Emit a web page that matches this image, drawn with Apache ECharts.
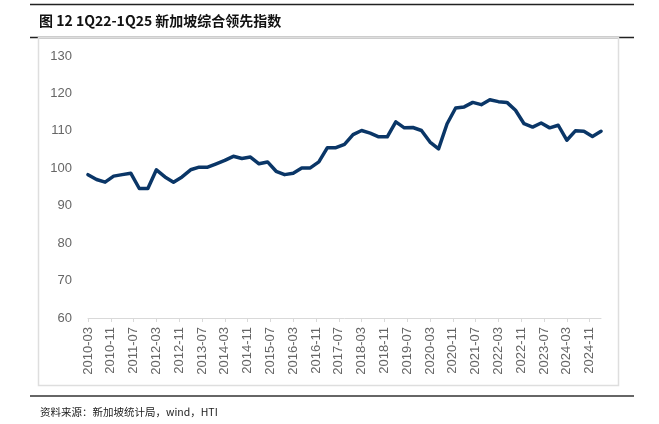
<!DOCTYPE html>
<html><head><meta charset="utf-8">
<script src="https://cdn.jsdelivr.net/npm/echarts@6/dist/echarts.min.js"></script>
<style>html,body{margin:0;padding:0;background:#fff}#c{width:659px;height:424px}</style>
</head><body><div id="c"></div>
<script>
// Quarterly Singapore composite leading index, 2010-03 .. 2025-03
const startYear = 2010, startMonth = 3, endYear = 2025, endMonth = 3;
const quarterMonths = [3, 6, 9, 12];
const values = [
  98.3, 97.0, 96.3, 97.9, 98.3, 98.7, 94.6, 94.6,
  99.6, 97.7, 96.3, 97.7, 99.6, 100.3, 100.3, 101.2,
  102.1, 103.2, 102.6, 103.0, 101.2, 101.7, 99.2, 98.3,
  98.7, 100.1, 100.1, 101.7, 105.5, 105.5, 106.4, 109.0,
  110.1, 109.4, 108.4, 108.4, 112.4, 110.8, 110.9, 110.1,
  107.0, 105.2, 111.9, 116.1, 116.4, 117.6, 117.0, 118.3,
  117.8, 117.6, 115.5, 111.9, 111.0, 112.1, 110.8, 111.5,
  107.5, 110.0, 109.9, 108.5, 109.9
];
const yTicks = [60, 70, 80, 90, 100, 110, 120, 130];
const titleText = '图 12 1Q22-1Q25 新加坡综合领先指数';
const sourceText = '资料来源：新加坡统计局，wind，HTI';

// monthly categories (axis is a monthly date axis; data quarterly)
const categories = [];
const seriesData = [];
let qi = 0;
for (let y = startYear, m = startMonth; y < endYear || (y === endYear && m <= endMonth); ) {
  categories.push(y + '-' + String(m).padStart(2, '0'));
  seriesData.push(quarterMonths.includes(m) ? values[qi++] : null);
  m++; if (m > 12) { m = 1; y++; }
}

const chart = echarts.init(document.getElementById('c'), null, {renderer: 'canvas'});
const grey = '#d9d9d9';
chart.setOption({
  animation: false,
  backgroundColor: '#fff',
  grid: {left: 88, right: 58, top: 56, bottom: 106, containLabel: false},
  xAxis: {
    type: 'category', data: categories, boundaryGap: false,
    axisLine: {lineStyle: {color: grey, width: 1}},
    axisTick: {show: true, interval: 7, length: 4, lineStyle: {color: grey}},
    axisLabel: {interval: 7, rotate: 90, margin: 9, color: '#666', fontSize: 13, fontFamily: 'Liberation Sans'}
  },
  yAxis: {
    type: 'value', min: yTicks[0], max: yTicks[yTicks.length - 1], interval: 10,
    axisLine: {show: false}, axisTick: {show: false}, splitLine: {show: false},
    axisLabel: {margin: 16, color: '#666', fontSize: 13, fontFamily: 'Liberation Sans'}
  },
  series: [{
    type: 'line', data: seriesData, connectNulls: true, showSymbol: false, symbol: 'none',
    lineStyle: {color: '#0a3667', width: 3.5, join: 'round', cap: 'round'}
  }],
  graphic: [
    {type: 'line', shape: {x1: 30, y1: 4.5, x2: 634, y2: 4.5}, style: {stroke: '#222', lineWidth: 1.5}},
    {type: 'text', left: 39, top: 14, style: {text: titleText, font: 'bold 14px "Noto Sans CJK SC", "Liberation Sans"', fill: '#111'}},
    {type: 'line', shape: {x1: 30, y1: 37.5, x2: 634, y2: 37.5}, style: {stroke: '#222', lineWidth: 1.5}},
    {type: 'rect', shape: {x: 38.5, y: 37.5, width: 580, height: 348}, style: {stroke: '#dedede', fill: null, lineWidth: 1.5}, z: 10},
    {type: 'line', shape: {x1: 30, y1: 396, x2: 634, y2: 396}, style: {stroke: '#333', lineWidth: 1.5}},
    {type: 'text', left: 40, top: 407, style: {text: sourceText, font: '10.5px "Noto Sans CJK SC"', fill: '#222'}}
  ]
});
</script></body></html>
